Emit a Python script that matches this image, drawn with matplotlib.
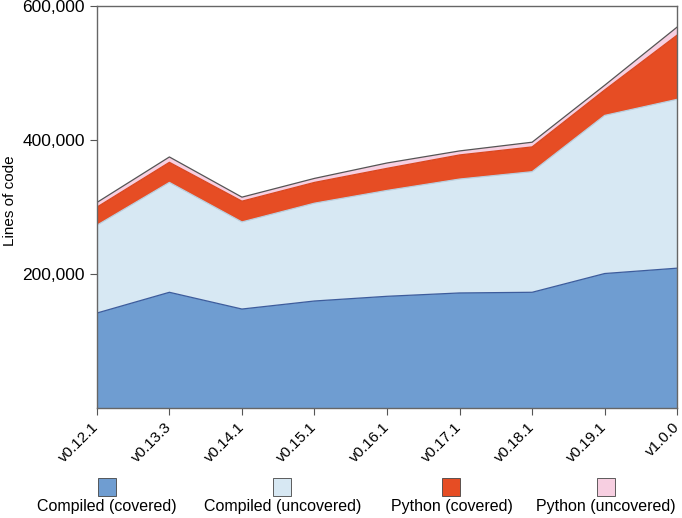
import matplotlib.pyplot as plt
from matplotlib.patches import Rectangle
from matplotlib.ticker import FuncFormatter

plt.rcParams['font.family'] = ['Liberation Sans', 'DejaVu Sans']

versions = ["v0.12.1", "v0.13.3", "v0.14.1", "v0.15.1", "v0.16.1",
            "v0.17.1", "v0.18.1", "v0.19.1", "v1.0.0"]
compiled_covered = [142000, 173000, 148000, 160000, 167000, 172000, 173000, 201000, 209000]
compiled_uncovered = [131000, 164000, 130000, 146000, 158000, 170000, 180000, 236000, 252000]
python_covered = [27000, 30000, 31000, 31000, 33000, 36000, 37000, 38000, 96000]
python_uncovered = [7000, 8000, 6000, 6000, 8000, 6000, 7000, 7000, 12000]

labels = ["Compiled (covered)", "Compiled (uncovered)", "Python (covered)", "Python (uncovered)"]
colors = ["#6f9dd1", "#d7e8f3", "#e64d24", "#f7cfe1"]
edges = ["#3d5c9c", "#b9cfdf", "#d9461f", "#555555"]

fig = plt.figure(figsize=(6.82, 5.18), dpi=100)
ax = fig.add_axes([0.142, 0.212, 0.851, 0.776])

x = list(range(len(versions)))
series = [compiled_covered, compiled_uncovered, python_covered, python_uncovered]
base = [0] * len(x)
for vals, c, e in zip(series, colors, edges):
    top = [b + v for b, v in zip(base, vals)]
    ax.fill_between(x, base, top, facecolor=c, edgecolor='none')
    ax.plot(x, top, color=e, lw=0.9)
    base = top

ax.set_xlim(0, len(x) - 1)
ax.set_ylim(0, 600000)
ax.set_yticks([200000, 400000, 600000])
ax.yaxis.set_major_formatter(FuncFormatter(lambda v, p: f"{int(v):,}"))
ax.set_xticks(x)
ax.set_xticklabels(versions, rotation=45, ha='right', va='center',
                   rotation_mode='anchor', fontsize=11)
ax.tick_params(axis='y', labelsize=12.5, length=5, color='#555555')
ax.tick_params(axis='x', length=5, pad=7, color='#555555')
ax.set_ylabel("Lines of code", fontsize=11)
ax.yaxis.set_label_coords(-0.138, 0.515)
for s in ax.spines.values():
    s.set_color('#666666')
    s.set_linewidth(1.0)

# legend: swatch above label
centers = [0.157, 0.414, 0.662, 0.888]
for cx, lab, c in zip(centers, labels, colors):
    w = 18 / 682
    h = 18 / 518
    fig.add_artist(Rectangle((cx - w / 2, 1 - 496 / 518), w, h, transform=fig.transFigure,
                             facecolor=c, edgecolor='#444444', lw=0.6))
    fig.text(cx, 1 - 507 / 518, lab, ha='center', va='center', fontsize=11.5)

fig.savefig("out.png", dpi=100)
